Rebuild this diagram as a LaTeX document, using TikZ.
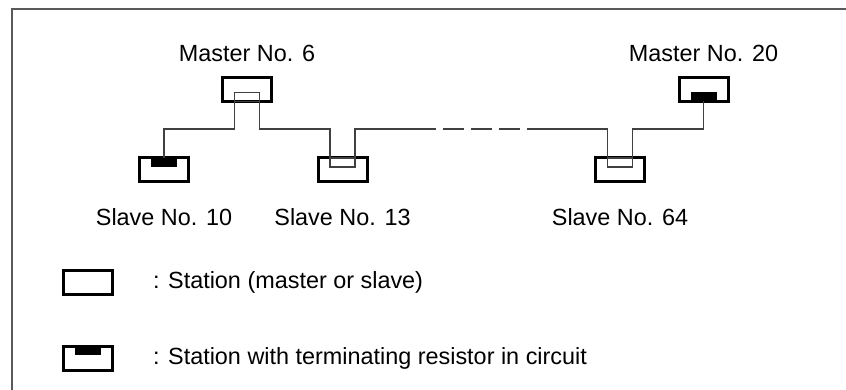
\documentclass[tikz,border=0pt]{standalone}
\usepackage{fontspec}
\setmainfont{Liberation Sans}
\usetikzlibrary{positioning}
\tikzset{
station/.style = { rectangle, draw = black, fill = white, line width = 3pt, minimum width = 49pt, minimum height = 24pt, inner sep = 0pt, outer sep = 0pt },
term res/.style = { rectangle, draw = none, fill = black, minimum width = 26pt, minimum height = 9pt, inner sep = 0pt, outer sep = 0pt },
pass loop/.style = { rectangle, draw = black!75, line width = 1.5pt, minimum width = 25pt, minimum height = 9pt, inner sep = 0pt, outer sep = 0pt },
cable/.style = { draw = black!75, line width = 1.5pt },
border line/.style = { draw = black!65, line width = 2pt },
stn text/.style = { text = black, inner sep = 0pt, outer sep = 0pt, font = \fontsize{23.4}{28}\selectfont }
}

\begin{document}
\begin{tikzpicture}[x = 1pt, y = -1pt]
    \useasboundingbox (0, 0) rectangle (846, 390);
    \draw[border line] (846, 9) -| (12, 390);
    \coordinate (bus) at (0, 129);
    \coordinate (d1) at (436, 129);
    \coordinate (d2) at (527, 129);
    \node[station] (m6) at (247, 89.5) {};
    \node[station] (m20) at (703.5, 89.5) {};
    \node[station] (s10) at (164, 170) {};
    \node[station] (s13) at (342.5, 170) {};
    \node[station] (s64) at (620, 170) {};
    \node[station] (leg1) at (88, 282) {};
    \node[station] (leg2) at (88, 358) {};
    \node[pass loop, anchor = south] (l6) at (m6.south) {};
    \node[pass loop, anchor = north] (l13) at (s13.north) {};
    \node[pass loop, anchor = north] (l64) at (s64.north) {};
    \node[term res, anchor = north] (r10) at (s10.north) {};
    \node[term res, anchor = south] (r20) at (m20.south) {};
    \node[term res, anchor = north] (r2) at (leg2.north) {};
    \draw[cable] (r10.north) |- (bus -| l6.west) -- (l6.south west);
    \draw[cable] (l6.south east) -- (bus -| l6.east) -| (l13.north west);
    \draw[cable] (l13.north east) |- (d1);
    \draw[cable, dash pattern = on 21pt off 7pt, dash phase = 21pt] (d1) -- (d2);
    \draw[cable] (d2) -| (l64.north west);
    \draw[cable] (l64.north east) |- (bus -| r20.south) -- (r20.south);
    \node[stn text, above = 15.5pt of m6] (t6) {Master No. 6};
    \node[stn text, above = 15.5pt of m20] (t20) {Master No. 20};
    \node[stn text, below = 26.5pt of s10] (t10) {Slave No. 10};
    \node[stn text, below = 26.5pt of s13] (t13) {Slave No. 13};
    \node[stn text, below = 26.5pt of s64] (t64) {Slave No. 64};
    \node[stn text, right = 40.5pt of leg1] (tleg1) {: Station (master or slave)};
    \node[stn text, right = 40.5pt of leg2] (tleg2) {: Station with terminating resistor in circuit};
\end{tikzpicture}
\end{document}
